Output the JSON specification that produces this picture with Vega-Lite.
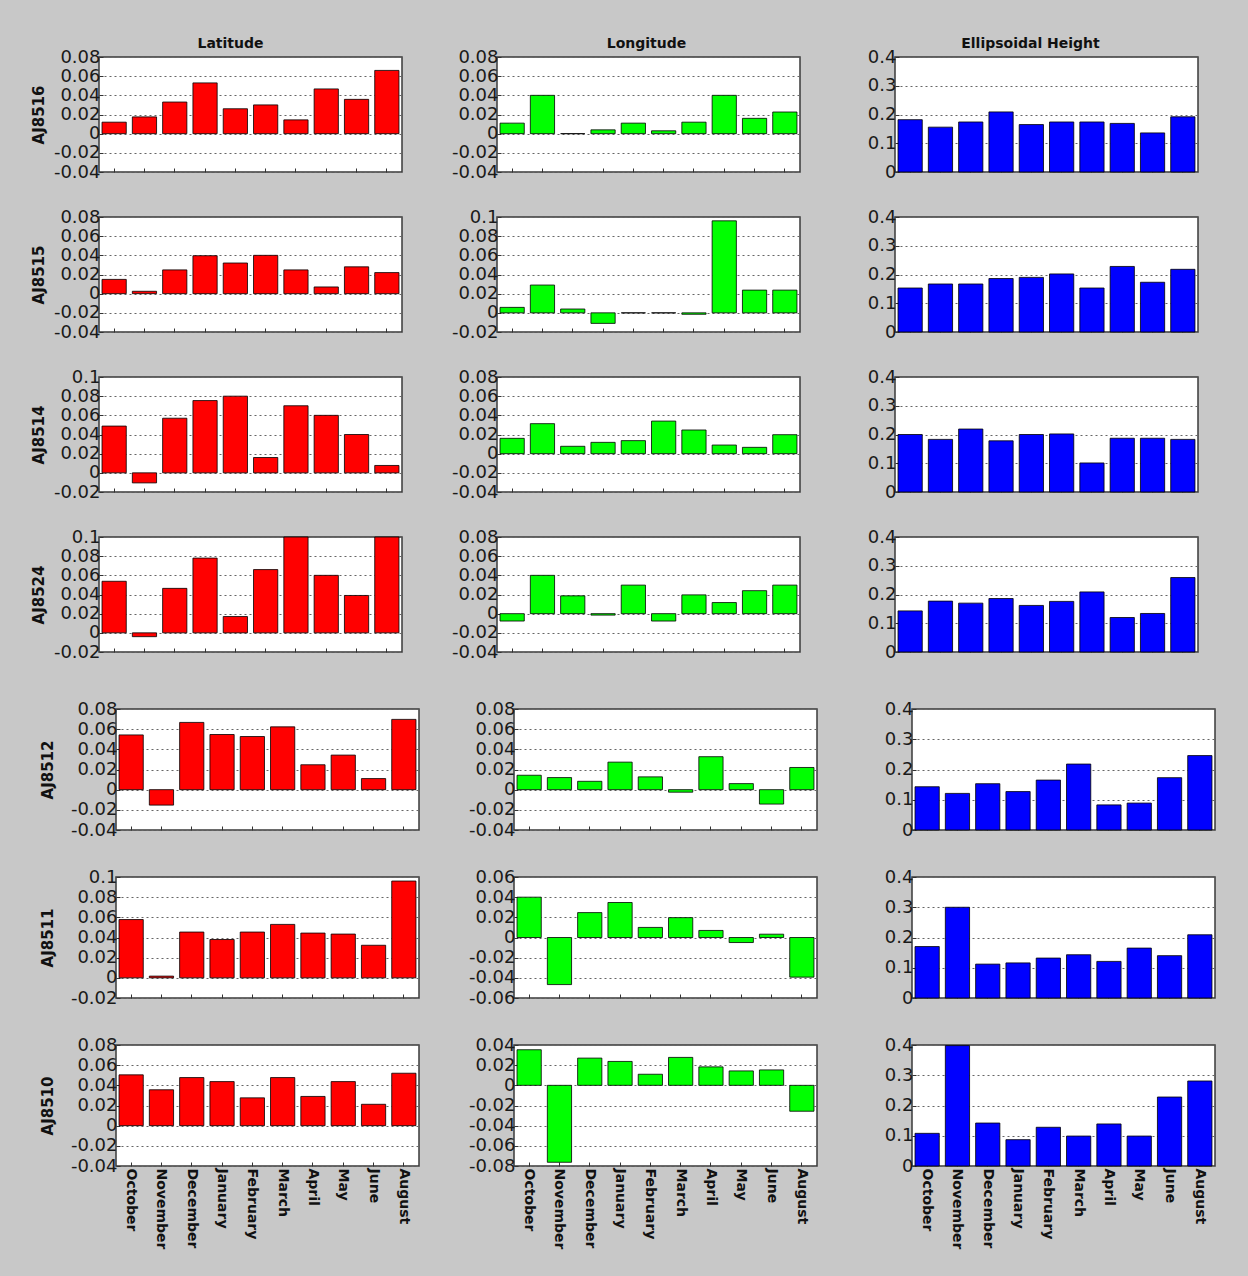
{
  "$schema": "https://vega.github.io/schema/vega-lite/v6.json",
  "padding": {"left": 29, "top": 36, "right": 32, "bottom": 26},
  "background": "#c8c8c8",
  "datasets": {
    "d": [
      {"s":"AJ8516","c":"Lat","m":"October","v":0.012},{"s":"AJ8516","c":"Lat","m":"November","v":0.0175},{"s":"AJ8516","c":"Lat","m":"December","v":0.033},{"s":"AJ8516","c":"Lat","m":"January","v":0.053},{"s":"AJ8516","c":"Lat","m":"February","v":0.026},{"s":"AJ8516","c":"Lat","m":"March","v":0.03},{"s":"AJ8516","c":"Lat","m":"April","v":0.0144},{"s":"AJ8516","c":"Lat","m":"May","v":0.0467},{"s":"AJ8516","c":"Lat","m":"June","v":0.0358},{"s":"AJ8516","c":"Lat","m":"August","v":0.066},
      {"s":"AJ8516","c":"Lon","m":"October","v":0.011},{"s":"AJ8516","c":"Lon","m":"November","v":0.04},{"s":"AJ8516","c":"Lon","m":"December","v":0},{"s":"AJ8516","c":"Lon","m":"January","v":0.004},{"s":"AJ8516","c":"Lon","m":"February","v":0.011},{"s":"AJ8516","c":"Lon","m":"March","v":0.003},{"s":"AJ8516","c":"Lon","m":"April","v":0.012},{"s":"AJ8516","c":"Lon","m":"May","v":0.04},{"s":"AJ8516","c":"Lon","m":"June","v":0.016},{"s":"AJ8516","c":"Lon","m":"August","v":0.0226},
      {"s":"AJ8516","c":"Ell","m":"October","v":0.182},{"s":"AJ8516","c":"Ell","m":"November","v":0.156},{"s":"AJ8516","c":"Ell","m":"December","v":0.174},{"s":"AJ8516","c":"Ell","m":"January","v":0.209},{"s":"AJ8516","c":"Ell","m":"February","v":0.165},{"s":"AJ8516","c":"Ell","m":"March","v":0.174},{"s":"AJ8516","c":"Ell","m":"April","v":0.174},{"s":"AJ8516","c":"Ell","m":"May","v":0.169},{"s":"AJ8516","c":"Ell","m":"June","v":0.136},{"s":"AJ8516","c":"Ell","m":"August","v":0.192},
      {"s":"AJ8515","c":"Lat","m":"October","v":0.0149},{"s":"AJ8515","c":"Lat","m":"November","v":0.0025},{"s":"AJ8515","c":"Lat","m":"December","v":0.0248},{"s":"AJ8515","c":"Lat","m":"January","v":0.0396},{"s":"AJ8515","c":"Lat","m":"February","v":0.032},{"s":"AJ8515","c":"Lat","m":"March","v":0.04},{"s":"AJ8515","c":"Lat","m":"April","v":0.0248},{"s":"AJ8515","c":"Lat","m":"May","v":0.007},{"s":"AJ8515","c":"Lat","m":"June","v":0.028},{"s":"AJ8515","c":"Lat","m":"August","v":0.022},
      {"s":"AJ8515","c":"Lon","m":"October","v":0.0057},{"s":"AJ8515","c":"Lon","m":"November","v":0.029},{"s":"AJ8515","c":"Lon","m":"December","v":0.004},{"s":"AJ8515","c":"Lon","m":"January","v":-0.011},{"s":"AJ8515","c":"Lon","m":"February","v":0},{"s":"AJ8515","c":"Lon","m":"March","v":0},{"s":"AJ8515","c":"Lon","m":"April","v":-0.0015},{"s":"AJ8515","c":"Lon","m":"May","v":0.096},{"s":"AJ8515","c":"Lon","m":"June","v":0.0237},{"s":"AJ8515","c":"Lon","m":"August","v":0.0237},
      {"s":"AJ8515","c":"Ell","m":"October","v":0.153},{"s":"AJ8515","c":"Ell","m":"November","v":0.167},{"s":"AJ8515","c":"Ell","m":"December","v":0.167},{"s":"AJ8515","c":"Ell","m":"January","v":0.186},{"s":"AJ8515","c":"Ell","m":"February","v":0.19},{"s":"AJ8515","c":"Ell","m":"March","v":0.202},{"s":"AJ8515","c":"Ell","m":"April","v":0.153},{"s":"AJ8515","c":"Ell","m":"May","v":0.228},{"s":"AJ8515","c":"Ell","m":"June","v":0.173},{"s":"AJ8515","c":"Ell","m":"August","v":0.218},
      {"s":"AJ8514","c":"Lat","m":"October","v":0.0488},{"s":"AJ8514","c":"Lat","m":"November","v":-0.0105},{"s":"AJ8514","c":"Lat","m":"December","v":0.057},{"s":"AJ8514","c":"Lat","m":"January","v":0.0754},{"s":"AJ8514","c":"Lat","m":"February","v":0.08},{"s":"AJ8514","c":"Lat","m":"March","v":0.016},{"s":"AJ8514","c":"Lat","m":"April","v":0.07},{"s":"AJ8514","c":"Lat","m":"May","v":0.06},{"s":"AJ8514","c":"Lat","m":"June","v":0.04},{"s":"AJ8514","c":"Lat","m":"August","v":0.0077},
      {"s":"AJ8514","c":"Lon","m":"October","v":0.016},{"s":"AJ8514","c":"Lon","m":"November","v":0.0313},{"s":"AJ8514","c":"Lon","m":"December","v":0.0077},{"s":"AJ8514","c":"Lon","m":"January","v":0.0118},{"s":"AJ8514","c":"Lon","m":"February","v":0.0136},{"s":"AJ8514","c":"Lon","m":"March","v":0.034},{"s":"AJ8514","c":"Lon","m":"April","v":0.0247},{"s":"AJ8514","c":"Lon","m":"May","v":0.009},{"s":"AJ8514","c":"Lon","m":"June","v":0.0066},{"s":"AJ8514","c":"Lon","m":"August","v":0.0198},
      {"s":"AJ8514","c":"Ell","m":"October","v":0.2},{"s":"AJ8514","c":"Ell","m":"November","v":0.183},{"s":"AJ8514","c":"Ell","m":"December","v":0.219},{"s":"AJ8514","c":"Ell","m":"January","v":0.178},{"s":"AJ8514","c":"Ell","m":"February","v":0.2},{"s":"AJ8514","c":"Ell","m":"March","v":0.202},{"s":"AJ8514","c":"Ell","m":"April","v":0.101},{"s":"AJ8514","c":"Ell","m":"May","v":0.187},{"s":"AJ8514","c":"Ell","m":"June","v":0.187},{"s":"AJ8514","c":"Ell","m":"August","v":0.183},
      {"s":"AJ8524","c":"Lat","m":"October","v":0.0538},{"s":"AJ8524","c":"Lat","m":"November","v":-0.004},{"s":"AJ8524","c":"Lat","m":"December","v":0.0464},{"s":"AJ8524","c":"Lat","m":"January","v":0.078},{"s":"AJ8524","c":"Lat","m":"February","v":0.017},{"s":"AJ8524","c":"Lat","m":"March","v":0.066},{"s":"AJ8524","c":"Lat","m":"April","v":0.1},{"s":"AJ8524","c":"Lat","m":"May","v":0.06},{"s":"AJ8524","c":"Lat","m":"June","v":0.039},{"s":"AJ8524","c":"Lat","m":"August","v":0.1},
      {"s":"AJ8524","c":"Lon","m":"October","v":-0.0077},{"s":"AJ8524","c":"Lon","m":"November","v":0.04},{"s":"AJ8524","c":"Lon","m":"December","v":0.0186},{"s":"AJ8524","c":"Lon","m":"January","v":-0.0015},{"s":"AJ8524","c":"Lon","m":"February","v":0.0298},{"s":"AJ8524","c":"Lon","m":"March","v":-0.0077},{"s":"AJ8524","c":"Lon","m":"April","v":0.0196},{"s":"AJ8524","c":"Lon","m":"May","v":0.0116},{"s":"AJ8524","c":"Lon","m":"June","v":0.024},{"s":"AJ8524","c":"Lon","m":"August","v":0.0298},
      {"s":"AJ8524","c":"Ell","m":"October","v":0.143},{"s":"AJ8524","c":"Ell","m":"November","v":0.177},{"s":"AJ8524","c":"Ell","m":"December","v":0.17},{"s":"AJ8524","c":"Ell","m":"January","v":0.186},{"s":"AJ8524","c":"Ell","m":"February","v":0.162},{"s":"AJ8524","c":"Ell","m":"March","v":0.176},{"s":"AJ8524","c":"Ell","m":"April","v":0.209},{"s":"AJ8524","c":"Ell","m":"May","v":0.12},{"s":"AJ8524","c":"Ell","m":"June","v":0.134},{"s":"AJ8524","c":"Ell","m":"August","v":0.259},
      {"s":"AJ8512","c":"Lat","m":"October","v":0.0543},{"s":"AJ8512","c":"Lat","m":"November","v":-0.0153},{"s":"AJ8512","c":"Lat","m":"December","v":0.0667},{"s":"AJ8512","c":"Lat","m":"January","v":0.0547},{"s":"AJ8512","c":"Lat","m":"February","v":0.0527},{"s":"AJ8512","c":"Lat","m":"March","v":0.0623},{"s":"AJ8512","c":"Lat","m":"April","v":0.0247},{"s":"AJ8512","c":"Lat","m":"May","v":0.0343},{"s":"AJ8512","c":"Lat","m":"June","v":0.011},{"s":"AJ8512","c":"Lat","m":"August","v":0.0697},
      {"s":"AJ8512","c":"Lon","m":"October","v":0.0143},{"s":"AJ8512","c":"Lon","m":"November","v":0.012},{"s":"AJ8512","c":"Lon","m":"December","v":0.0083},{"s":"AJ8512","c":"Lon","m":"January","v":0.0273},{"s":"AJ8512","c":"Lon","m":"February","v":0.0127},{"s":"AJ8512","c":"Lon","m":"March","v":-0.0025},{"s":"AJ8512","c":"Lon","m":"April","v":0.0327},{"s":"AJ8512","c":"Lon","m":"May","v":0.006},{"s":"AJ8512","c":"Lon","m":"June","v":-0.0143},{"s":"AJ8512","c":"Lon","m":"August","v":0.022},
      {"s":"AJ8512","c":"Ell","m":"October","v":0.143},{"s":"AJ8512","c":"Ell","m":"November","v":0.121},{"s":"AJ8512","c":"Ell","m":"December","v":0.153},{"s":"AJ8512","c":"Ell","m":"January","v":0.127},{"s":"AJ8512","c":"Ell","m":"February","v":0.165},{"s":"AJ8512","c":"Ell","m":"March","v":0.218},{"s":"AJ8512","c":"Ell","m":"April","v":0.083},{"s":"AJ8512","c":"Ell","m":"May","v":0.089},{"s":"AJ8512","c":"Ell","m":"June","v":0.173},{"s":"AJ8512","c":"Ell","m":"August","v":0.246},
      {"s":"AJ8511","c":"Lat","m":"October","v":0.0578},{"s":"AJ8511","c":"Lat","m":"November","v":0.0017},{"s":"AJ8511","c":"Lat","m":"December","v":0.0454},{"s":"AJ8511","c":"Lat","m":"January","v":0.038},{"s":"AJ8511","c":"Lat","m":"February","v":0.0454},{"s":"AJ8511","c":"Lat","m":"March","v":0.053},{"s":"AJ8511","c":"Lat","m":"April","v":0.0444},{"s":"AJ8511","c":"Lat","m":"May","v":0.0434},{"s":"AJ8511","c":"Lat","m":"June","v":0.0323},{"s":"AJ8511","c":"Lat","m":"August","v":0.096},
      {"s":"AJ8511","c":"Lon","m":"October","v":0.04},{"s":"AJ8511","c":"Lon","m":"November","v":-0.0467},{"s":"AJ8511","c":"Lon","m":"December","v":0.0247},{"s":"AJ8511","c":"Lon","m":"January","v":0.0347},{"s":"AJ8511","c":"Lon","m":"February","v":0.01},{"s":"AJ8511","c":"Lon","m":"March","v":0.0197},{"s":"AJ8511","c":"Lon","m":"April","v":0.007},{"s":"AJ8511","c":"Lon","m":"May","v":-0.005},{"s":"AJ8511","c":"Lon","m":"June","v":0.0033},{"s":"AJ8511","c":"Lon","m":"August","v":-0.0393},
      {"s":"AJ8511","c":"Ell","m":"October","v":0.17},{"s":"AJ8511","c":"Ell","m":"November","v":0.3},{"s":"AJ8511","c":"Ell","m":"December","v":0.112},{"s":"AJ8511","c":"Ell","m":"January","v":0.116},{"s":"AJ8511","c":"Ell","m":"February","v":0.132},{"s":"AJ8511","c":"Ell","m":"March","v":0.143},{"s":"AJ8511","c":"Ell","m":"April","v":0.121},{"s":"AJ8511","c":"Ell","m":"May","v":0.165},{"s":"AJ8511","c":"Ell","m":"June","v":0.14},{"s":"AJ8511","c":"Ell","m":"August","v":0.209},
      {"s":"AJ8510","c":"Lat","m":"October","v":0.0504},{"s":"AJ8510","c":"Lat","m":"November","v":0.0356},{"s":"AJ8510","c":"Lat","m":"December","v":0.0477},{"s":"AJ8510","c":"Lat","m":"January","v":0.0437},{"s":"AJ8510","c":"Lat","m":"February","v":0.0276},{"s":"AJ8510","c":"Lat","m":"March","v":0.0477},{"s":"AJ8510","c":"Lat","m":"April","v":0.029},{"s":"AJ8510","c":"Lat","m":"May","v":0.0437},{"s":"AJ8510","c":"Lat","m":"June","v":0.0212},{"s":"AJ8510","c":"Lat","m":"August","v":0.052},
      {"s":"AJ8510","c":"Lon","m":"October","v":0.0353},{"s":"AJ8510","c":"Lon","m":"November","v":-0.0763},{"s":"AJ8510","c":"Lon","m":"December","v":0.027},{"s":"AJ8510","c":"Lon","m":"January","v":0.0237},{"s":"AJ8510","c":"Lon","m":"February","v":0.011},{"s":"AJ8510","c":"Lon","m":"March","v":0.0277},{"s":"AJ8510","c":"Lon","m":"April","v":0.0183},{"s":"AJ8510","c":"Lon","m":"May","v":0.0143},{"s":"AJ8510","c":"Lon","m":"June","v":0.0153},{"s":"AJ8510","c":"Lon","m":"August","v":-0.0257},
      {"s":"AJ8510","c":"Ell","m":"October","v":0.108},{"s":"AJ8510","c":"Ell","m":"November","v":0.398},{"s":"AJ8510","c":"Ell","m":"December","v":0.142},{"s":"AJ8510","c":"Ell","m":"January","v":0.087},{"s":"AJ8510","c":"Ell","m":"February","v":0.128},{"s":"AJ8510","c":"Ell","m":"March","v":0.099},{"s":"AJ8510","c":"Ell","m":"April","v":0.139},{"s":"AJ8510","c":"Ell","m":"May","v":0.099},{"s":"AJ8510","c":"Ell","m":"June","v":0.228},{"s":"AJ8510","c":"Ell","m":"August","v":0.281}
    ]
  },
  "data": {"name": "d"},
  "spacing": 37,
  "vconcat": [
    {
      "spacing": 0,
      "hconcat": [
        {"width": 1, "height": 10, "data": {"values": []}, "mark": "point", "view": {"fill": null, "stroke": null}},
        {
          "columns": 3,
          "bounds": "flush",
          "spacing": {"row": 45, "column": 95},
          "concat": [
            {"width": 303, "height": 115, "title": {"text": "Latitude", "dx": -20},
             "transform": [{"filter": "datum.s=='AJ8516'&&datum.c=='Lat'"}],
             "mark": {"type": "bar", "color": "#ff0000"},
             "encoding": {"x": {"field": "m", "type": "nominal", "sort": ["October","November","December","January","February","March","April","May","June","August"]},
               "y": {"field": "v", "type": "quantitative", "scale": {"domain": [-0.04, 0.08], "nice": false}, "axis": {"values": [-0.04,-0.02,0,0.02,0.04,0.06,0.08], "title": "AJ8516"}}}},
            {"width": 303, "height": 115, "title": {"text": "Longitude", "dx": -2},
             "transform": [{"filter": "datum.s=='AJ8516'&&datum.c=='Lon'"}],
             "mark": {"type": "bar", "color": "#00ff00"},
             "encoding": {"x": {"field": "m", "type": "nominal", "sort": ["October","November","December","January","February","March","April","May","June","August"]},
               "y": {"field": "v", "type": "quantitative", "scale": {"domain": [-0.04, 0.08], "nice": false}, "axis": {"values": [-0.04,-0.02,0,0.02,0.04,0.06,0.08], "title": null}}}},
            {"width": 303, "height": 115, "title": {"text": "Ellipsoidal Height", "dx": -16},
             "transform": [{"filter": "datum.s=='AJ8516'&&datum.c=='Ell'"}],
             "mark": {"type": "bar", "color": "#0000ff"},
             "encoding": {"x": {"field": "m", "type": "nominal", "sort": ["October","November","December","January","February","March","April","May","June","August"]},
               "y": {"field": "v", "type": "quantitative", "scale": {"domain": [0, 0.4], "nice": false}, "axis": {"values": [0,0.1,0.2,0.3,0.4], "title": null}}}},

            {"width": 303, "height": 115,
             "transform": [{"filter": "datum.s=='AJ8515'&&datum.c=='Lat'"}],
             "mark": {"type": "bar", "color": "#ff0000"},
             "encoding": {"x": {"field": "m", "type": "nominal", "sort": ["October","November","December","January","February","March","April","May","June","August"]},
               "y": {"field": "v", "type": "quantitative", "scale": {"domain": [-0.04, 0.08], "nice": false}, "axis": {"values": [-0.04,-0.02,0,0.02,0.04,0.06,0.08], "title": "AJ8515"}}}},
            {"width": 303, "height": 115,
             "transform": [{"filter": "datum.s=='AJ8515'&&datum.c=='Lon'"}],
             "mark": {"type": "bar", "color": "#00ff00"},
             "encoding": {"x": {"field": "m", "type": "nominal", "sort": ["October","November","December","January","February","March","April","May","June","August"]},
               "y": {"field": "v", "type": "quantitative", "scale": {"domain": [-0.02, 0.1], "nice": false}, "axis": {"values": [-0.02,0,0.02,0.04,0.06,0.08,0.1], "title": null}}}},
            {"width": 303, "height": 115,
             "transform": [{"filter": "datum.s=='AJ8515'&&datum.c=='Ell'"}],
             "mark": {"type": "bar", "color": "#0000ff"},
             "encoding": {"x": {"field": "m", "type": "nominal", "sort": ["October","November","December","January","February","March","April","May","June","August"]},
               "y": {"field": "v", "type": "quantitative", "scale": {"domain": [0, 0.4], "nice": false}, "axis": {"values": [0,0.1,0.2,0.3,0.4], "title": null}}}},

            {"width": 303, "height": 115,
             "transform": [{"filter": "datum.s=='AJ8514'&&datum.c=='Lat'"}],
             "mark": {"type": "bar", "color": "#ff0000"},
             "encoding": {"x": {"field": "m", "type": "nominal", "sort": ["October","November","December","January","February","March","April","May","June","August"]},
               "y": {"field": "v", "type": "quantitative", "scale": {"domain": [-0.02, 0.1], "nice": false}, "axis": {"values": [-0.02,0,0.02,0.04,0.06,0.08,0.1], "title": "AJ8514"}}}},
            {"width": 303, "height": 115,
             "transform": [{"filter": "datum.s=='AJ8514'&&datum.c=='Lon'"}],
             "mark": {"type": "bar", "color": "#00ff00"},
             "encoding": {"x": {"field": "m", "type": "nominal", "sort": ["October","November","December","January","February","March","April","May","June","August"]},
               "y": {"field": "v", "type": "quantitative", "scale": {"domain": [-0.04, 0.08], "nice": false}, "axis": {"values": [-0.04,-0.02,0,0.02,0.04,0.06,0.08], "title": null}}}},
            {"width": 303, "height": 115,
             "transform": [{"filter": "datum.s=='AJ8514'&&datum.c=='Ell'"}],
             "mark": {"type": "bar", "color": "#0000ff"},
             "encoding": {"x": {"field": "m", "type": "nominal", "sort": ["October","November","December","January","February","March","April","May","June","August"]},
               "y": {"field": "v", "type": "quantitative", "scale": {"domain": [0, 0.4], "nice": false}, "axis": {"values": [0,0.1,0.2,0.3,0.4], "title": null}}}},

            {"width": 303, "height": 115,
             "transform": [{"filter": "datum.s=='AJ8524'&&datum.c=='Lat'"}],
             "mark": {"type": "bar", "color": "#ff0000"},
             "encoding": {"x": {"field": "m", "type": "nominal", "sort": ["October","November","December","January","February","March","April","May","June","August"]},
               "y": {"field": "v", "type": "quantitative", "scale": {"domain": [-0.02, 0.1], "nice": false}, "axis": {"values": [-0.02,0,0.02,0.04,0.06,0.08,0.1], "title": "AJ8524"}}}},
            {"width": 303, "height": 115,
             "transform": [{"filter": "datum.s=='AJ8524'&&datum.c=='Lon'"}],
             "mark": {"type": "bar", "color": "#00ff00"},
             "encoding": {"x": {"field": "m", "type": "nominal", "sort": ["October","November","December","January","February","March","April","May","June","August"]},
               "y": {"field": "v", "type": "quantitative", "scale": {"domain": [-0.04, 0.08], "nice": false}, "axis": {"values": [-0.04,-0.02,0,0.02,0.04,0.06,0.08], "title": null}}}},
            {"width": 303, "height": 115,
             "transform": [{"filter": "datum.s=='AJ8524'&&datum.c=='Ell'"}],
             "mark": {"type": "bar", "color": "#0000ff"},
             "encoding": {"x": {"field": "m", "type": "nominal", "sort": ["October","November","December","January","February","March","April","May","June","August"]},
               "y": {"field": "v", "type": "quantitative", "scale": {"domain": [0, 0.4], "nice": false}, "axis": {"values": [0,0.1,0.2,0.3,0.4], "title": null}}}}
          ]
        }
      ]
    },
    {
      "spacing": 0,
      "hconcat": [
        {"width": 10, "height": 10, "data": {"values": []}, "mark": "point", "view": {"fill": null, "stroke": null}},
        {
          "columns": 3,
          "bounds": "flush",
          "spacing": {"row": 47, "column": 95},
          "concat": [
            {"width": 303, "height": 121,
             "transform": [{"filter": "datum.s=='AJ8512'&&datum.c=='Lat'"}],
             "mark": {"type": "bar", "color": "#ff0000"},
             "encoding": {"x": {"field": "m", "type": "nominal", "sort": ["October","November","December","January","February","March","April","May","June","August"]},
               "y": {"field": "v", "type": "quantitative", "scale": {"domain": [-0.04, 0.08], "nice": false}, "axis": {"values": [-0.04,-0.02,0,0.02,0.04,0.06,0.08], "title": "AJ8512", "titlePadding": 15}}}},
            {"width": 303, "height": 121,
             "transform": [{"filter": "datum.s=='AJ8512'&&datum.c=='Lon'"}],
             "mark": {"type": "bar", "color": "#00ff00"},
             "encoding": {"x": {"field": "m", "type": "nominal", "sort": ["October","November","December","January","February","March","April","May","June","August"]},
               "y": {"field": "v", "type": "quantitative", "scale": {"domain": [-0.04, 0.08], "nice": false}, "axis": {"values": [-0.04,-0.02,0,0.02,0.04,0.06,0.08], "title": null}}}},
            {"width": 303, "height": 121,
             "transform": [{"filter": "datum.s=='AJ8512'&&datum.c=='Ell'"}],
             "mark": {"type": "bar", "color": "#0000ff"},
             "encoding": {"x": {"field": "m", "type": "nominal", "sort": ["October","November","December","January","February","March","April","May","June","August"]},
               "y": {"field": "v", "type": "quantitative", "scale": {"domain": [0, 0.4], "nice": false}, "axis": {"values": [0,0.1,0.2,0.3,0.4], "title": null}}}},

            {"width": 303, "height": 121,
             "transform": [{"filter": "datum.s=='AJ8511'&&datum.c=='Lat'"}],
             "mark": {"type": "bar", "color": "#ff0000"},
             "encoding": {"x": {"field": "m", "type": "nominal", "sort": ["October","November","December","January","February","March","April","May","June","August"]},
               "y": {"field": "v", "type": "quantitative", "scale": {"domain": [-0.02, 0.1], "nice": false}, "axis": {"values": [-0.02,0,0.02,0.04,0.06,0.08,0.1], "title": "AJ8511", "titlePadding": 15}}}},
            {"width": 303, "height": 121,
             "transform": [{"filter": "datum.s=='AJ8511'&&datum.c=='Lon'"}],
             "mark": {"type": "bar", "color": "#00ff00"},
             "encoding": {"x": {"field": "m", "type": "nominal", "sort": ["October","November","December","January","February","March","April","May","June","August"]},
               "y": {"field": "v", "type": "quantitative", "scale": {"domain": [-0.06, 0.06], "nice": false}, "axis": {"values": [-0.06,-0.04,-0.02,0,0.02,0.04,0.06], "title": null}}}},
            {"width": 303, "height": 121,
             "transform": [{"filter": "datum.s=='AJ8511'&&datum.c=='Ell'"}],
             "mark": {"type": "bar", "color": "#0000ff"},
             "encoding": {"x": {"field": "m", "type": "nominal", "sort": ["October","November","December","January","February","March","April","May","June","August"]},
               "y": {"field": "v", "type": "quantitative", "scale": {"domain": [0, 0.4], "nice": false}, "axis": {"values": [0,0.1,0.2,0.3,0.4], "title": null}}}},

            {"width": 303, "height": 121,
             "transform": [{"filter": "datum.s=='AJ8510'&&datum.c=='Lat'"}],
             "mark": {"type": "bar", "color": "#ff0000"},
             "encoding": {"x": {"field": "m", "type": "nominal", "sort": ["October","November","December","January","February","March","April","May","June","August"], "axis": {"labels": true}},
               "y": {"field": "v", "type": "quantitative", "scale": {"domain": [-0.04, 0.08], "nice": false}, "axis": {"values": [-0.04,-0.02,0,0.02,0.04,0.06,0.08], "title": "AJ8510", "titlePadding": 15}}}},
            {"width": 303, "height": 121,
             "transform": [{"filter": "datum.s=='AJ8510'&&datum.c=='Lon'"}],
             "mark": {"type": "bar", "color": "#00ff00"},
             "encoding": {"x": {"field": "m", "type": "nominal", "sort": ["October","November","December","January","February","March","April","May","June","August"], "axis": {"labels": true}},
               "y": {"field": "v", "type": "quantitative", "scale": {"domain": [-0.08, 0.04], "nice": false}, "axis": {"values": [-0.08,-0.06,-0.04,-0.02,0,0.02,0.04], "title": null}}}},
            {"width": 303, "height": 121,
             "transform": [{"filter": "datum.s=='AJ8510'&&datum.c=='Ell'"}],
             "mark": {"type": "bar", "color": "#0000ff"},
             "encoding": {"x": {"field": "m", "type": "nominal", "sort": ["October","November","December","January","February","March","April","May","June","August"], "axis": {"labels": true}},
               "y": {"field": "v", "type": "quantitative", "scale": {"domain": [0, 0.4], "nice": false}, "axis": {"values": [0,0.1,0.2,0.3,0.4], "title": null}}}}
          ]
        }
      ]
    }
  ],
  "config": {
    "view": {"fill": "white", "stroke": "#3a3a3a", "strokeWidth": 1.5},
    "scale": {"barBandPaddingInner": 0.2, "bandPaddingOuter": 0.1},
    "bar": {"stroke": "#000000", "strokeWidth": 0.8},
    "title": {"font": "DejaVu Sans", "fontSize": 14, "fontWeight": "bold", "color": "#111111", "anchor": "middle", "frame": "group", "offset": -3},
    "axisX": {"title": null, "labels": false, "domain": false, "grid": false, "ticks": true, "tickSize": -4, "tickColor": "#333333",
      "labelAngle": 90, "labelFont": "DejaVu Sans", "labelFontWeight": "bold", "labelFontSize": 14, "labelColor": "#111111", "labelPadding": 6},
    "axisY": {"domain": false, "grid": true, "gridColor": "#666666", "gridDash": [2, 3], "gridWidth": 1,
      "ticks": true, "tickSize": -4, "tickColor": "#333333",
      "labelFont": "DejaVu Sans", "labelFontSize": 18, "labelColor": "#1a1a1a", "labelPadding": 3, "labelOverlap": false,
      "labelExpr": "datum.value < 0 ? '-' + format(-datum.value, '~g') : format(datum.value, '~g')",
      "titleFont": "DejaVu Sans", "titleFontSize": 15, "titleFontWeight": "bold", "titleColor": "#111111", "titlePadding": 7}
  }
}
